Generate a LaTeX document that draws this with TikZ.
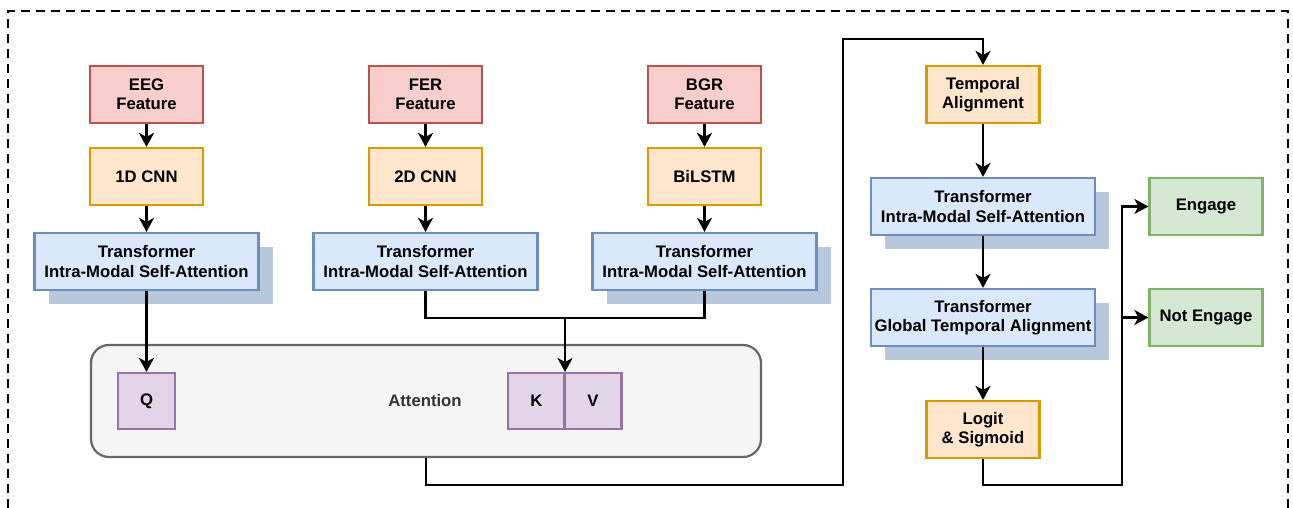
\documentclass[tikz,border=0pt]{standalone}
\usepackage{fontspec}
\setmainfont{Liberation Sans}
\usetikzlibrary{arrows.meta,shadows}
\definecolor{redfill}{HTML}{F8CECC}\definecolor{redline}{HTML}{B85450}
\definecolor{orfill}{HTML}{FFE6CC}\definecolor{orline}{HTML}{D79B00}
\definecolor{blfill}{HTML}{DAE8FC}\definecolor{blline}{HTML}{6C8EBF}
\definecolor{pufill}{HTML}{E1D5E7}\definecolor{puline}{HTML}{9673A6}
\definecolor{grfill}{HTML}{D5E8D4}\definecolor{grline}{HTML}{82B366}
\definecolor{attfill}{HTML}{F5F5F5}\definecolor{attline}{HTML}{666666}
\definecolor{shadowcol}{RGB}{184,200,220}
\definecolor{atttext}{HTML}{333333}
\tikzset{
  box/.style={draw, line width=2.2pt, inner sep=0pt, align=center,
    font=\bfseries\fontsize{16.7}{19.5}\selectfont},
  smallbox/.style={box, minimum width=113pt, minimum height=57pt},
  widebox/.style={box, minimum width=224pt, minimum height=57pt},
  redbox/.style={smallbox, fill=redfill, draw=redline},
  orbox/.style={smallbox, fill=orfill, draw=orline},
  grbox/.style={smallbox, fill=grfill, draw=grline},
  blbox/.style={widebox, fill=blfill, draw=blline},
  shbox/.style={blbox, drop shadow={shadow xshift=14pt, shadow yshift=-14pt, fill=shadowcol, opacity=1}},
  pubox/.style={box, fill=pufill, draw=puline, minimum width=57pt, minimum height=56pt},
  conn/.style={line width=2.7pt, -{Stealth[length=14pt,width=15pt,inset=4pt]}},
  plain/.style={line width=2.7pt},
}
\begin{document}
\begin{tikzpicture}[x=1pt,y=-1pt]
\useasboundingbox (0,0) rectangle (1293,508);
% dashed frame
\draw[line width=2.2pt, dash pattern=on 9pt off 6pt] (8,508) -- (8,11) -- (1288,11) -- (1288,508);

% attention container
\node[draw=attline, fill=attfill, line width=2.2pt, rounded corners=18pt,
  minimum width=670pt, minimum height=112pt, inner sep=0pt] (att) at (426,401) {};
\node[font=\bfseries\fontsize{16.7}{19.5}\selectfont, text=atttext] (attlbl) at (425,401) {Attention};
\node[pubox] (q) at (146.5,401) {Q};
\node[pubox] (k) at (536.5,401) {K};
\node[pubox] (v) at (593,401) {V};

% column 1
\node[redbox] (eeg) at (146.5,94.5) {EEG\\Feature};
\node[orbox] (cnn1) at (146.5,176.5) {1D CNN};
\node[shbox] (t1) at (146.5,261.5) {Transformer\\Intra-Modal Self-Attention};
% column 2
\node[redbox] (fer) at (425.5,94.5) {FER\\Feature};
\node[orbox] (cnn2) at (425.5,176.5) {2D CNN};
\node[blbox] (t2) at (425.5,261.5) {Transformer\\Intra-Modal Self-Attention};
% column 3
\node[redbox] (bgr) at (704.5,94.5) {BGR\\Feature};
\node[orbox] (lstm) at (704.5,176.5) {BiLSTM};
\node[shbox] (t3) at (704.5,261.5) {Transformer\\Intra-Modal Self-Attention};

% right column
\node[orbox] (ta) at (983,94.5) {Temporal\\Alignment};
\node[shbox] (t4) at (983,206.5) {Transformer\\Intra-Modal Self-Attention};
\node[shbox] (t5) at (983,317.5) {Transformer\\Global Temporal Alignment};
\node[orbox] (logit) at (983,429.5) {Logit\\\& Sigmoid};
\node[grbox] (eng) at (1206,206.5) {Engage};
\node[grbox] (neng) at (1206,317.5) {Not Engage};

% connectors
\draw[conn] (eeg) -- (cnn1);
\draw[conn] (cnn1) -- (t1);
\draw[conn] (t1) -- (q);
\draw[conn] (fer) -- (cnn2);
\draw[conn] (cnn2) -- (t2);
\draw[conn] (bgr) -- (lstm);
\draw[conn] (lstm) -- (t3);

\coordinate (merge) at (565,318);
\coordinate (kvtop) at (565,372);
\draw[plain] (t2.south) |- (merge);
\draw[plain] (t3.south) |- (merge);
\draw[conn] (merge) -- (kvtop);

\coordinate (c1) at (843,485);
\coordinate (c2) at (843,39);
\draw[conn] (att.south) |- (c1) -- (c2) -| (ta.north);

\draw[conn] (ta) -- (t4);
\draw[conn] (t4) -- (t5);
\draw[conn] (t5) -- (logit);

\coordinate (c3) at (1122,485);
\draw[conn] (logit.south) |- (c3) |- (eng.west);
\draw[conn] (c3) |- (neng.west);
\end{tikzpicture}
\end{document}
